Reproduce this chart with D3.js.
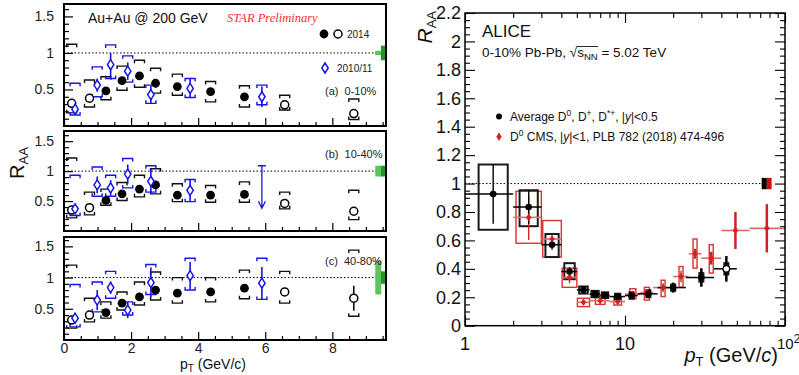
<!DOCTYPE html>
<html>
<head>
<meta charset="utf-8">
<script src="https://cdn.jsdelivr.net/npm/d3@7"></script>
<style>
  body { margin: 0; background: #fff; }
  svg { display: block; }
  text { font-family: "Liberation Sans", Arial, Helvetica, sans-serif; }
</style>
</head>
<body>
<svg id="chart" width="799" height="375"></svg>
<script>
// ---------------- STAR (left) data ----------------
const ptStar14 = [0.23, 0.76, 1.25, 1.73, 2.25, 2.73, 3.38, 4.37, 5.38, 6.58, 8.64];
const openStar14 = [1, 1, 0, 0, 0, 0, 0, 0, 0, 1, 1];
const ptStar1011 = [0.33, 0.99, 1.39, 1.9, 2.59, 3.76, 5.9];

// 0-10%
const raa14_a = [0.31, 0.38, 0.48, 0.62, 0.685, 0.585, 0.54, 0.47, 0.40, 0.29, 0.17];
const stat14_a = [0.03, 0.03, 0.03, 0.03, 0.03, 0.03, 0.03, 0.03, 0.04, 0.04, 0.05];
const sysHi14_a = [1.12, 0.63, 0.675, 0.82, 0.90, 0.79, 0.71, 0.61, 0.55, 0.42, 0.37];
const sysLo14_a = [0.18, 0.26, 0.36, 0.49, 0.53, 0.45, 0.42, 0.33, 0.26, 0.22, 0.09];
const raa1011_a = [0.23, 0.56, 0.84, 0.75, 0.43, 0.515, 0.40];
const stat1011_a = [0.05, 0.09, 0.16, 0.12, 0.12, 0.13, 0.14];
const sysHi1011_a = [0.585, 0.81, 1.11, 0.96, 0.56, 0.65, 0.56];
const sysLo1011_a = [0.15, 0.40, 0.65, 0.60, 0.31, 0.39, 0.29];

// 10-40%
const raa14_b = [0.35, 0.39, 0.51, 0.62, 0.70, 0.77, 0.60, 0.60, 0.61, 0.46, 0.33];
const stat14_b = [0.03, 0.03, 0.03, 0.03, 0.03, 0.03, 0.03, 0.03, 0.04, 0.04, 0.05];
const sysHi14_b = [1.22, 0.65, 0.70, 0.81, 0.93, 1.04, 0.79, 0.76, 0.82, 0.65, 0.68];
const sysLo14_b = [0.22, 0.27, 0.43, 0.51, 0.57, 0.62, 0.49, 0.48, 0.48, 0.37, 0.19];
const raa1011_b = [0.37, 0.77, 0.72, 0.95, 0.83, 0.68];
const stat1011_b = [0.07, 0.14, 0.13, 0.16, 0.20, 0.18];
const sysHi1011_b = [0.93, 1.07, 0.93, 1.21, 1.09, 0.86];
const sysLo1011_b = [0.26, 0.58, 0.58, 0.72, 0.65, 0.49];
const ulPt_b = [5.9];
const ulHi_b = [1.09];
const ulLo_b = [0.38];

// 40-80%
const raa14_c = [0.32, 0.40, 0.44, 0.59, 0.69, 0.80, 0.75, 0.77, 0.83, 0.77, 0.67];
const stat14_c = [0.04, 0.03, 0.03, 0.03, 0.03, 0.03, 0.03, 0.04, 0.05, 0.06, 0.20];
const sysHi14_c = [1.20, 0.67, 0.61, 0.77, 0.93, 1.09, 1.00, 1.00, 1.12, 1.10, 1.44];
const sysLo14_c = [0.19, 0.29, 0.35, 0.48, 0.56, 0.64, 0.59, 0.61, 0.66, 0.59, 0.38];
const raa1011_c = [0.35, 0.64, 0.84, 0.48, 0.92, 1.03, 0.91];
const stat1011_c = [0.08, 0.16, 0.10, 0.13, 0.24, 0.22, 0.26];
const sysHi1011_c = [0.89, 0.93, 1.10, 0.61, 1.21, 1.31, 1.31];
const sysLo1011_c = [0.21, 0.45, 0.67, 0.40, 0.73, 0.80, 0.65];

// normalisation uncertainties (light, dark) per centrality
const normLight = [0.03, 0.09, 0.27];
const normDark = [0.10, 0.09, 0.10];
const centLabels = ['(a)  0-10%', '(b)  10-40%', '(c)  40-80%'];

// ---------------- ALICE (right) data ----------------
const aliceBinLo = [1, 2, 3, 4, 5, 6, 7, 8, 10, 12, 16, 24, 36];
const aliceBinHi = [2, 3, 4, 5, 6, 7, 8, 10, 12, 16, 24, 36, 50];
const alicePt = [1.5, 2.5, 3.5, 4.5, 5.5, 6.5, 7.5, 9, 11, 14, 20, 30, 43];
const aliceRaa = [0.927, 0.835, 0.57, 0.381, 0.252, 0.222, 0.214, 0.205, 0.212, 0.224, 0.268, 0.339, 0.40];
const aliceStat = [0.21, 0.12, 0.035, 0.03, 0.015, 0.015, 0.015, 0.02, 0.02, 0.025, 0.035, 0.065, 0.09];
const aliceSysLo = [0.675, 0.70, 0.483, 0.327, 0.226, 0.20, 0.195, 0.185, 0.19, 0.20, 0.245, 0.31, 0.36];
const aliceSysHi = [1.134, 0.953, 0.645, 0.44, 0.276, 0.245, 0.235, 0.225, 0.235, 0.25, 0.29, 0.37, 0.44];
const aliceOpen = [0, 0, 0, 0, 0, 0, 0, 0, 0, 0, 0, 0, 1];

const cmsBinLo = [2, 3, 4, 5, 6, 8, 10, 12.5, 15, 20, 25, 30, 40, 60];
const cmsBinHi = [3, 4, 5, 6, 8, 10, 12.5, 15, 20, 25, 30, 40, 60, 100];
const cmsPt = [2.5, 3.5, 4.5, 5.5, 7, 9, 11.2, 13.7, 17.3, 22.4, 27.4, 34.6, 49, 77];
const cmsRaa = [0.762, 0.61, 0.34, 0.165, 0.176, 0.17, 0.222, 0.233, 0.268, 0.346, 0.506, 0.475, 0.67, 0.685];
const cmsStat = [0.16, 0.033, 0.04, 0.02, 0.02, 0.02, 0.02, 0.025, 0.03, 0.04, 0.035, 0.045, 0.13, 0.17];
const cmsSysLo = [0.58, 0.483, 0.27, 0.134, 0.15, 0.145, 0.19, 0.18, 0.205, 0.271, 0.405, 0.37, null, null];
const cmsSysHi = [0.946, 0.74, 0.405, 0.193, 0.205, 0.20, 0.26, 0.27, 0.32, 0.416, 0.61, 0.57, null, null];

const aliceNorm = 0.04;
const cmsNorm = 0.04;

// ----------------------------------------------------
const svg = d3.select('#chart');
const BLUE = '#1515e8';
const RED = '#d42020';

const starPanels = [
  { top: 4,   bottom: 126, yMax: 1.67, raa14: raa14_a, stat14: stat14_a, hi14: sysHi14_a, lo14: sysLo14_a,
    raa1011: raa1011_a, stat1011: stat1011_a, hi1011: sysHi1011_a, lo1011: sysLo1011_a, labelY: 95 },
  { top: 131, bottom: 231, yMax: 1.67, raa14: raa14_b, stat14: stat14_b, hi14: sysHi14_b, lo14: sysLo14_b,
    raa1011: raa1011_b, stat1011: stat1011_b, hi1011: sysHi1011_b, lo1011: sysLo1011_b, labelY: 158,
    ul: { pt: ulPt_b, hi: ulHi_b, lo: ulLo_b } },
  { top: 237, bottom: 340, yMax: 1.65, raa14: raa14_c, stat14: stat14_c, hi14: sysHi14_c, lo14: sysLo14_c,
    raa1011: raa1011_c, stat1011: stat1011_c, hi1011: sysHi1011_c, lo1011: sysLo1011_c, labelY: 265 }
];

const xStar = d3.scaleLinear([0, 9.6], [64, 386]);

function bracket(g, x, y, dir, color) {
  // dir = +1 legs point down (upper bracket), -1 legs point up (lower bracket)
  g.append('path')
    .attr('d', `M${x - 5},${y + 3 * dir}V${y}H${x + 5}V${y + 3 * dir}`)
    .attr('fill', 'none').attr('stroke', color).attr('stroke-width', 1.4);
}

function diamond(g, x, y, color) {
  g.append('path')
    .attr('d', `M${x},${y - 5}L${x + 3.2},${y}L${x},${y + 5}L${x - 3.2},${y}Z`)
    .attr('fill', '#fff').attr('stroke', color).attr('stroke-width', 1.5);
}

starPanels.forEach((p, i) => {
  const g = svg.append('g');
  const y = d3.scaleLinear([0, p.yMax], [p.bottom, p.top]);

  // reference line at 1
  g.append('line')
    .attr('x1', xStar(0)).attr('x2', xStar(9.6))
    .attr('y1', y(1)).attr('y2', y(1))
    .attr('stroke', '#000').attr('stroke-width', 1).attr('stroke-dasharray', '1.5,2');

  // normalisation boxes
  g.append('rect')
    .attr('x', xStar(9.28)).attr('width', xStar(9.46) - xStar(9.28))
    .attr('y', y(1 + normLight[i])).attr('height', y(1 - normLight[i]) - y(1 + normLight[i]))
    .attr('fill', '#5cc45c');
  g.append('rect')
    .attr('x', xStar(9.45)).attr('width', xStar(9.6) - xStar(9.45))
    .attr('y', y(1 + normDark[i])).attr('height', y(1 - normDark[i]) - y(1 + normDark[i]))
    .attr('fill', '#23962a');

  // axes (inward ticks)
  const yMajor = d3.axisLeft(y).tickValues([0.5, 1, 1.5]).tickSize(-9).tickPadding(10)
    .tickFormat(d3.format(''));
  const yMinor = d3.axisLeft(y).tickValues(d3.range(1, 17).map(v => v / 10).filter(v => v % 0.5 > 0.01 && v % 0.5 < 0.49))
    .tickSize(-5).tickFormat('');
  const ga = g.append('g').attr('transform', `translate(${xStar(0)},0)`).call(yMajor);
  g.append('g').attr('transform', `translate(${xStar(0)},0)`).call(yMinor);

  const xMajor = d3.axisBottom(xStar).tickValues([0, 2, 4, 6, 8]).tickSize(-8).tickPadding(3)
    .tickFormat(i === 2 ? d3.format('') : '');
  const xMinor = d3.axisBottom(xStar).tickValues(d3.range(1, 20).map(v => v / 2).filter(v => v % 2 !== 0))
    .tickSize(-4).tickFormat('');
  const gx = g.append('g').attr('transform', `translate(0,${p.bottom})`).call(xMajor);
  g.append('g').attr('transform', `translate(0,${p.bottom})`).call(xMinor);

  g.selectAll('.domain').remove();
  g.selectAll('.tick line').attr('stroke', '#000').attr('stroke-width', 1.2);
  ga.selectAll('text').style('font-size', '14px').attr('fill', '#222');
  gx.selectAll('text').style('font-size', '14px').attr('fill', '#222');

  // 2014 brackets + stat
  ptStar14.forEach((pt, k) => {
    const x = xStar(pt);
    bracket(g, x, y(p.hi14[k]), 1, '#111');
    bracket(g, x, y(p.lo14[k]), -1, '#111');
    g.append('line').attr('x1', x).attr('x2', x)
      .attr('y1', y(p.raa14[k] + p.stat14[k])).attr('y2', y(p.raa14[k] - p.stat14[k]))
      .attr('stroke', '#000').attr('stroke-width', 1.5);
  });
  // 2010/11 brackets + stat
  p.raa1011.forEach((v, k) => {
    const x = xStar(ptStar1011[k]);
    bracket(g, x, y(p.hi1011[k]), 1, BLUE);
    bracket(g, x, y(p.lo1011[k]), -1, BLUE);
    g.append('line').attr('x1', x).attr('x2', x)
      .attr('y1', y(v + p.stat1011[k])).attr('y2', y(v - p.stat1011[k]))
      .attr('stroke', BLUE).attr('stroke-width', 1.6);
  });
  // upper limit arrow
  if (p.ul) {
    p.ul.pt.forEach((pt, k) => {
      const x = xStar(pt), yt = y(p.ul.hi[k]), yb = y(p.ul.lo[k]);
      g.append('path')
        .attr('d', `M${x - 4},${yt}H${x + 4}M${x},${yt}V${yb}M${x - 3.5},${yb - 7}L${x},${yb}L${x + 3.5},${yb - 7}`)
        .attr('fill', 'none').attr('stroke', BLUE).attr('stroke-width', 1.3);
    });
  }
  // markers
  ptStar14.forEach((pt, k) => {
    g.append('circle').attr('cx', xStar(pt)).attr('cy', y(p.raa14[k])).attr('r', openStar14[k] ? 4 : 4.4)
      .attr('fill', openStar14[k] ? '#fff' : '#000')
      .attr('stroke', '#000').attr('stroke-width', openStar14[k] ? 1.5 : 0);
  });
  p.raa1011.forEach((v, k) => diamond(g, xStar(ptStar1011[k]), y(v), BLUE));

  // frame
  g.append('rect').attr('x', 64).attr('y', p.top).attr('width', 386 - 64).attr('height', p.bottom - p.top)
    .attr('fill', 'none').attr('stroke', '#000').attr('stroke-width', 2);

  g.append('text').attr('x', 325).attr('y', p.labelY).style('font-size', '11px').attr('fill', '#222')
    .attr('xml:space', 'preserve').text(centLabels[i]);
});

// STAR texts / legend
svg.append('text').attr('x', 88).attr('y', 23).style('font-size', '14px').attr('fill', '#111').text('Au+Au @ 200 GeV');
svg.append('text').attr('x', 227).attr('y', 22).style('font-size', '12.5px')
  .style('font-family', '"Liberation Serif", "Times New Roman", serif').style('font-style', 'italic')
  .attr('fill', '#ff2a2a').text('STAR Preliminary');
svg.append('circle').attr('cx', 324).attr('cy', 34).attr('r', 4.4).attr('fill', '#000');
svg.append('circle').attr('cx', 338).attr('cy', 34).attr('r', 4).attr('fill', '#fff').attr('stroke', '#000').attr('stroke-width', 1.5);
svg.append('text').attr('x', 347).attr('y', 37.5).style('font-size', '10px').attr('fill', '#222').text('2014');
diamond(svg, 325, 68, BLUE);
svg.append('text').attr('x', 337).attr('y', 72).style('font-size', '10px').attr('fill', '#222').text('2010/11');

// STAR axis titles
const yt = svg.append('text').attr('transform', 'translate(24,163) rotate(-90)').attr('text-anchor', 'middle')
  .style('font-size', '20px').attr('fill', '#111');
yt.append('tspan').text('R');
yt.append('tspan').attr('dy', 4).style('font-size', '13px').text('AA');
const xt = svg.append('text').attr('x', 213).attr('y', 369).attr('text-anchor', 'middle')
  .style('font-size', '14px').attr('fill', '#111');
xt.append('tspan').text('p');
xt.append('tspan').attr('dy', 3).style('font-size', '10px').text('T');
xt.append('tspan').attr('dy', -3).text(' (GeV/c)');

// ---------------- ALICE panel ----------------
const xA = d3.scaleLog([1, 100], [465, 785]);
const yA = d3.scaleLinear([0, 2.2], [325.7, 13]);
const ga = svg.append('g');

// axes ticks on all four sides
const yMajA = d3.range(0, 12).map(i => +(i * 0.2).toFixed(1));
const yMinA = d3.range(0, 45).map(i => +(i * 0.05).toFixed(2)).filter(v => !yMajA.includes(v));
const xMajA = [1, 10, 100];
const xMinA = [2, 3, 4, 5, 6, 7, 8, 9, 20, 30, 40, 50, 60, 70, 80, 90];

ga.append('g').attr('transform', 'translate(465,0)')
  .call(d3.axisLeft(yA).tickValues(yMajA).tickSize(-10).tickPadding(4).tickFormat(d => String(d)));
ga.append('g').attr('transform', 'translate(465,0)')
  .call(d3.axisLeft(yA).tickValues(yMinA).tickSize(-5).tickFormat(''));
ga.append('g').attr('transform', 'translate(785,0)')
  .call(d3.axisRight(yA).tickValues(yMajA).tickSize(-10).tickFormat(''));
ga.append('g').attr('transform', 'translate(785,0)')
  .call(d3.axisRight(yA).tickValues(yMinA).tickSize(-5).tickFormat(''));
ga.append('g').attr('transform', 'translate(0,325.7)')
  .call(d3.axisBottom(xA).tickValues(xMajA).tickSize(-10).tickFormat(''));
ga.append('g').attr('transform', 'translate(0,325.7)')
  .call(d3.axisBottom(xA).tickValues(xMinA).tickSize(-5).tickFormat(''));
ga.append('g').attr('transform', 'translate(0,13)')
  .call(d3.axisTop(xA).tickValues(xMajA).tickSize(-10).tickFormat(''));
ga.append('g').attr('transform', 'translate(0,13)')
  .call(d3.axisTop(xA).tickValues(xMinA).tickSize(-5).tickFormat(''));
ga.selectAll('.domain').remove();
ga.selectAll('.tick line').attr('stroke', '#000').attr('stroke-width', 1.1);
ga.selectAll('text').style('font-size', '18px').attr('fill', '#111');

// x tick labels
ga.append('text').attr('x', xA(1)).attr('y', 350).attr('text-anchor', 'middle').style('font-size', '18px').attr('fill', '#111').text('1');
ga.append('text').attr('x', xA(10)).attr('y', 350).attr('text-anchor', 'middle').style('font-size', '18px').attr('fill', '#111').text('10');
const l100 = ga.append('text').attr('x', xA(100) - 8).attr('y', 349).style('font-size', '15px').attr('fill', '#111');
l100.append('tspan').text('10');
l100.append('tspan').attr('dy', -6).style('font-size', '12px').text('2');

// reference line
ga.append('line').attr('x1', 465).attr('x2', xA(71)).attr('y1', yA(1)).attr('y2', yA(1))
  .attr('stroke', '#000').attr('stroke-width', 1).attr('stroke-dasharray', '1.5,2');
// normalisation boxes
ga.append('rect').attr('x', xA(71.5)).attr('width', xA(77) - xA(71.5))
  .attr('y', yA(1 + aliceNorm)).attr('height', yA(1 - aliceNorm) - yA(1 + aliceNorm)).attr('fill', '#000');
ga.append('rect').attr('x', xA(77)).attr('width', xA(82.5) - xA(77))
  .attr('y', yA(1 + cmsNorm)).attr('height', yA(1 - cmsNorm) - yA(1 + cmsNorm)).attr('fill', '#d01010');

// CMS systematic boxes
cmsPt.forEach((pt, k) => {
  if (cmsSysLo[k] == null) return;
  const hw = Math.max(xA(pt + 0.5) - xA(pt), 2);
  ga.append('rect').attr('x', xA(pt) - hw).attr('width', 2 * hw)
    .attr('y', yA(cmsSysHi[k])).attr('height', yA(cmsSysLo[k]) - yA(cmsSysHi[k]))
    .attr('fill', 'none').attr('stroke', '#dd3030').attr('stroke-width', 1.4);
});
// ALICE systematic boxes
alicePt.forEach((pt, k) => {
  const hw = Math.max(xA(pt + 0.35) - xA(pt), 2);
  ga.append('rect').attr('x', xA(pt) - hw).attr('width', 2 * hw)
    .attr('y', yA(aliceSysHi[k])).attr('height', yA(aliceSysLo[k]) - yA(aliceSysHi[k]))
    .attr('fill', 'none').attr('stroke', '#1a1a1a').attr('stroke-width', 2);
});
// CMS error bars
cmsPt.forEach((pt, k) => {
  ga.append('line').attr('x1', xA(cmsBinLo[k])).attr('x2', xA(cmsBinHi[k]))
    .attr('y1', yA(cmsRaa[k])).attr('y2', yA(cmsRaa[k]))
    .attr('stroke', '#e26a6a').attr('stroke-width', 1.6);
  ga.append('line').attr('x1', xA(pt)).attr('x2', xA(pt))
    .attr('y1', yA(cmsRaa[k] + cmsStat[k])).attr('y2', yA(cmsRaa[k] - cmsStat[k]))
    .attr('stroke', '#d42020').attr('stroke-width', k >= 10 ? 2.5 : 1.4);
});
// ALICE error bars
alicePt.forEach((pt, k) => {
  ga.append('line').attr('x1', xA(aliceBinLo[k])).attr('x2', xA(aliceBinHi[k]))
    .attr('y1', yA(aliceRaa[k])).attr('y2', yA(aliceRaa[k]))
    .attr('stroke', '#000').attr('stroke-width', 1.5);
  ga.append('line').attr('x1', xA(pt)).attr('x2', xA(pt))
    .attr('y1', yA(aliceRaa[k] + aliceStat[k])).attr('y2', yA(aliceRaa[k] - aliceStat[k]))
    .attr('stroke', '#000').attr('stroke-width', k >= 10 ? 2.5 : 1.4);
});
// markers
const redMarker = (g, x, y) => g.append('path')
  .attr('d', `M${x},${y - 3.6}L${x + 2.8},${y}L${x},${y + 3.6}L${x - 2.8},${y}Z`).attr('fill', RED);
cmsPt.forEach((pt, k) => redMarker(ga, xA(pt), yA(cmsRaa[k])));
alicePt.forEach((pt, k) => {
  ga.append('circle').attr('cx', xA(pt)).attr('cy', yA(aliceRaa[k])).attr('r', 3.3)
    .attr('fill', aliceOpen[k] ? '#fff' : '#000').attr('stroke', '#000').attr('stroke-width', aliceOpen[k] ? 1.3 : 0);
});

// frame
ga.append('rect').attr('x', 465).attr('y', 13).attr('width', 320).attr('height', 312.7)
  .attr('fill', 'none').attr('stroke', '#000').attr('stroke-width', 1.5);

// texts
ga.append('text').attr('x', 482).attr('y', 36.5).style('font-size', '17px').attr('fill', '#111').text('ALICE');
const sub = ga.append('text').attr('x', 482).attr('y', 57).style('font-size', '13.5px').attr('fill', '#111');
sub.append('tspan').text('0-10% Pb-Pb, ');
sub.append('tspan').text('√');
sub.append('tspan').text('s');
sub.append('tspan').attr('dy', 3).style('font-size', '9.5px').text('NN');
sub.append('tspan').attr('dy', -3).text(' = 5.02 TeV');
{
  const n = sub.node();
  const x0 = n.getEndPositionOfChar(13).x;
  const x1 = n.getEndPositionOfChar(16).x;
  ga.append('line').attr('x1', x0 - 0.5).attr('x2', x1 + 0.5).attr('y1', 46.5).attr('y2', 46.5)
    .attr('stroke', '#111').attr('stroke-width', 0.9);
}

// legend
ga.append('circle').attr('cx', 499).attr('cy', 116.5).attr('r', 3).attr('fill', '#000');
const lg1 = ga.append('text').attr('x', 510).attr('y', 121).style('font-size', '12px').attr('fill', '#111');
lg1.append('tspan').text('Average D');
lg1.append('tspan').attr('dy', -5).style('font-size', '8.5px').text('0');
lg1.append('tspan').attr('dy', 5).text(', D');
lg1.append('tspan').attr('dy', -5).style('font-size', '8.5px').text('+');
lg1.append('tspan').attr('dy', 5).text(', D');
lg1.append('tspan').attr('dy', -5).style('font-size', '8.5px').text('*+');
lg1.append('tspan').attr('dy', 5).text(', |');
lg1.append('tspan').style('font-style', 'italic').text('y');
lg1.append('tspan').text('|<0.5');

ga.append('line').attr('x1', 499).attr('x2', 499).attr('y1', 133).attr('y2', 140.5).attr('stroke', RED).attr('stroke-width', 1.2);
redMarker(ga, 499, 136.7);
const lg2 = ga.append('text').attr('x', 510).attr('y', 141).style('font-size', '12px').attr('fill', '#111');
lg2.append('tspan').text('D');
lg2.append('tspan').attr('dy', -5).style('font-size', '8.5px').text('0');
lg2.append('tspan').attr('dy', 5).text(' CMS, |');
lg2.append('tspan').style('font-style', 'italic').text('y');
lg2.append('tspan').text('|<1, PLB 782 (2018) 474-496');

// axis titles
const ry = ga.append('text').attr('transform', 'translate(432,11) rotate(-90)').attr('text-anchor', 'end')
  .style('font-size', '21px').attr('fill', '#111');
ry.append('tspan').style('font-style', 'italic').text('R');
ry.append('tspan').attr('dy', 4).style('font-size', '13px').text('AA');

const rx = ga.append('text').attr('x', 778).attr('y', 362).attr('text-anchor', 'end')
  .style('font-size', '20px').attr('fill', '#111');
rx.append('tspan').style('font-style', 'italic').text('p');
rx.append('tspan').attr('dy', 4).style('font-size', '13px').text('T');
rx.append('tspan').attr('dy', -4).text(' (GeV/');
rx.append('tspan').style('font-style', 'italic').text('c');
rx.append('tspan').text(')');
</script>
</body>
</html>
